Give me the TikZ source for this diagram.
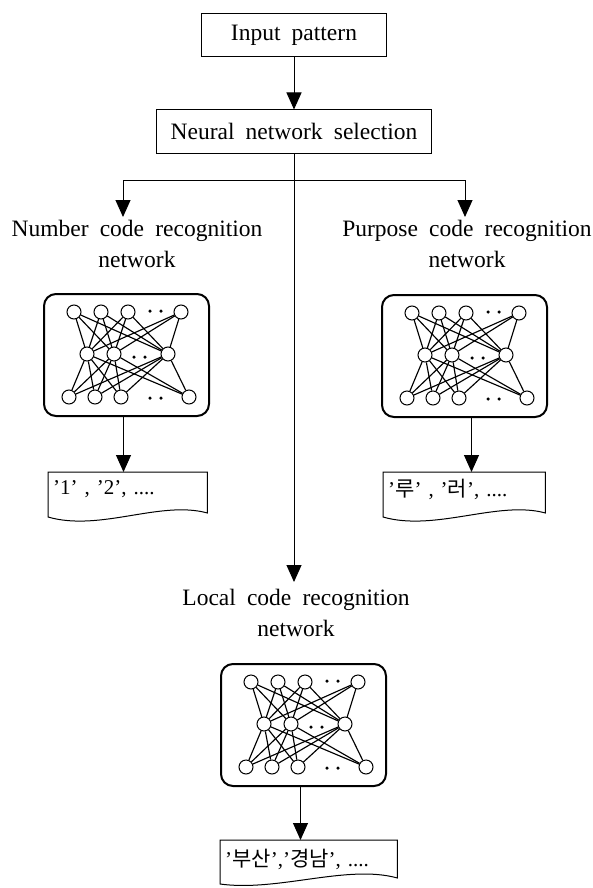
\documentclass[tikz,border=0pt]{standalone}
\usepackage{fontspec}
\setmainfont{Liberation Serif}[WordSpace=1.9]
\newfontfamily\krfont{Noto Sans CJK KR}
\usetikzlibrary{arrows.meta,calc}
\tikzset{
  plainbox/.style={draw, line width=1pt, inner sep=0pt, font=\fontsize{23.5}{28}\selectfont},
  lbl/.style={align=center, inner sep=0pt, font=\fontsize{23.5}{31}\selectfont},
  arr/.style={line width=1pt, -{Triangle[length=17pt,width=15pt]}},
  netbox/.style={draw, line width=2pt, rounded corners=12pt, minimum width=165pt, minimum height=122pt, inner sep=0pt},
  neuron/.style={circle, draw, fill=white, line width=1pt, minimum size=14pt, inner sep=0pt},
  netedge/.style={line width=1.15pt},
  dotmark/.style={circle, fill=black, minimum size=3.5pt, inner sep=0pt},
  doc/.style={inner xsep=5pt, inner ysep=0pt, minimum height=34pt, align=left, font=\fontsize{21}{25}\selectfont},
  docline/.style={line width=1pt},
}
\newcommand\drawnet[3]{%
  \begin{scope}[shift={(#2,#3)}]
    \node[netbox] (#1) at (82.5,61) {};
    \foreach \n/\x in {1/30,2/57,3/84,4/137} \node[neuron] (#1t\n) at (\x,18) {};
    \foreach \n/\x in {1/43,2/70,3/124} \node[neuron] (#1m\n) at (\x,60) {};
    \foreach \n/\x in {1/25,2/51,3/77,4/145} \node[neuron] (#1b\n) at (\x,103) {};
    \node[dotmark] (#1dt1) at (106,17) {};
    \node[dotmark] (#1dt2) at (117,17) {};
    \node[dotmark] (#1dm1) at (90,63) {};
    \node[dotmark] (#1dm2) at (101,63) {};
    \node[dotmark] (#1db1) at (106,104) {};
    \node[dotmark] (#1db2) at (117,104) {};
    \foreach \i in {1,...,4} \foreach \j in {1,2,3} \draw[netedge] (#1t\i) -- (#1m\j);
    \foreach \j in {1,2,3} \foreach \k in {1,...,4} \draw[netedge] (#1m\j) -- (#1b\k);
  \end{scope}}
\begin{document}
\begin{tikzpicture}[x=1pt,y=-1pt]
\useasboundingbox (0,0) rectangle (593,888);
% top boxes
\node[plainbox, minimum width=185pt, minimum height=43pt] (input) at (294,35.5) {Input pattern};
\node[plainbox, minimum width=275pt, minimum height=43pt] (select) at (294,131.5) {Neural network selection};
\draw[arr] (input) -- (select);
% branching
\coordinate (br) at (294,180);
\coordinate (tipL) at (123,217);
\coordinate (tipR) at (465,217);
\coordinate (tipC) at (294,582);
\draw[arr] (select.south) -- (tipC);
\draw[arr] (br) -| (tipL);
\draw[arr] (br) -| (tipR);
% labels
\node[lbl] (numlbl) at (137,243.5) {Number code recognition\\network};
\node[lbl] (purlbl) at (467,243.5) {Purpose code recognition\\network};
\node[lbl] (loclbl) at (296,613) {Local code recognition\\network};
% networks
\drawnet{nnL}{44}{294}
\drawnet{nnR}{382}{295}
\drawnet{nnC}{221}{664}
% outputs
\node[doc, text width=149pt, anchor=north west] (outL) at (48,472) {'1' , '2', ....};
\node[doc, text width=152pt, anchor=north west] (outR) at (383,472) {'{\krfont 루}' , '{\krfont 러}', ....};
\node[doc, text width=167pt, minimum height=38pt, anchor=north west] (outC) at (220,840) {'{\krfont 부산}','{\krfont 경남}', ....};
\draw[docline] (outL.north west) -- (outL.north east) -- ($(outL.north east)+(0,41)$)
  .. controls ($(outL.north east)+(-47,28)$) and ($(outL.north west)+(52,60)$) .. ($(outL.north west)+(0,45)$) -- cycle;
\draw[docline] (outR.north west) -- (outR.north east) -- ($(outR.north east)+(0,41)$)
  .. controls ($(outR.north east)+(-47,28)$) and ($(outR.north west)+(52,60)$) .. ($(outR.north west)+(0,45)$) -- cycle;
\draw[docline] (outC.north west) -- (outC.north east) -- ($(outC.north east)+(0,38)$)
  .. controls ($(outC.north east)+(-50,24)$) and ($(outC.north west)+(58,52)$) .. ($(outC.north west)+(0,44)$) -- cycle;
% arrows to outputs
\draw[arr] ([xshift=-3pt]nnL.south) -- ([xshift=-3pt]nnL.south |- outL.north);
\draw[arr] ([xshift=7pt]nnR.south) -- ([xshift=7pt]nnR.south |- outR.north);
\draw[arr] ([xshift=-3pt]nnC.south) -- ([xshift=-3pt]nnC.south |- outC.north);
\end{tikzpicture}
\end{document}
